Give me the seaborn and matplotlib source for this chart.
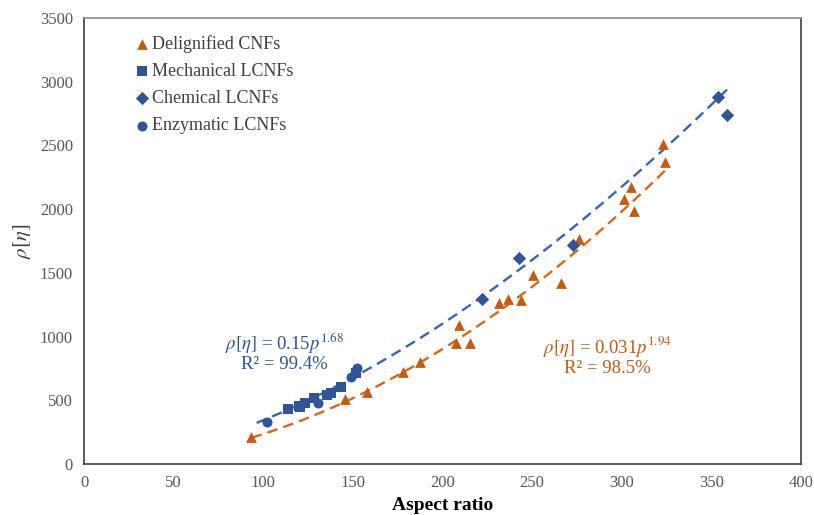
import numpy as np
import pandas as pd
import matplotlib
matplotlib.use("Agg")
import matplotlib.pyplot as plt
import seaborn as sns

# ---- data ----
delig_x = [93.4, 145.4, 157.9, 178.0, 187.3, 207.8, 209.2, 215.6, 231.5, 236.8,
           243.8, 250.5, 266.1, 276.3, 301.3, 305.4, 306.7, 323.0, 324.1]
delig_y = [209, 510, 567, 724, 800, 947, 1093, 952, 1261, 1292,
           1287, 1483, 1418, 1763, 2082, 2176, 1988, 2511, 2368]

mech_x = [113.8, 119.8, 120.6, 123.1, 128.3, 135.8, 137.6, 143.6, 151.5]
mech_y = [432, 458, 446, 476, 520, 541, 555, 607, 712]

chem_x = [222.2, 242.5, 272.8, 353.7, 358.7]
chem_y = [1292, 1614, 1718, 2882, 2739]

enz_x = [102.3, 130.5, 148.8, 152.5]
enz_y = [327, 476, 685, 751]

groups = ["Delignified CNFs", "Mechanical LCNFs", "Chemical LCNFs", "Enzymatic LCNFs"]

# fitted power laws shown on chart
blue_a, blue_b = 0.15, 1.68
orange_a, orange_b = 0.031, 1.94
blue_range = (96.3, 358.7)
orange_range = (93.4, 324.1)

x_ticks = [0, 50, 100, 150, 200, 250, 300, 350, 400]
y_ticks = [0, 500, 1000, 1500, 2000, 2500, 3000, 3500]

# ---- build frame ----
df = pd.concat([
    pd.DataFrame({"x": delig_x, "y": delig_y, "g": groups[0]}),
    pd.DataFrame({"x": mech_x, "y": mech_y, "g": groups[1]}),
    pd.DataFrame({"x": chem_x, "y": chem_y, "g": groups[2]}),
    pd.DataFrame({"x": enz_x, "y": enz_y, "g": groups[3]}),
], ignore_index=True)

orange = "#C55A11"
blue = "#2F5597"
palette = {groups[0]: orange, groups[1]: blue, groups[2]: blue, groups[3]: blue}
markers = {groups[0]: "^", groups[1]: "s", groups[2]: "D", groups[3]: "o"}

sns.set_theme(style="white")
plt.rcParams["font.family"] = ["Liberation Serif", "DejaVu Serif"]
plt.rcParams["mathtext.fontset"] = "stix"

fig = plt.figure(figsize=(8.14, 5.15), dpi=100)
ax = fig.add_axes([0.1032, 0.099, 0.8808, 0.866])

# trend lines
xb = np.linspace(*blue_range, 200)
xo = np.linspace(*orange_range, 200)
sns.lineplot(x=xb, y=blue_a * xb ** blue_b, ax=ax, color="#3A65AD", lw=1.7,
             linestyle=(0, (4.5, 2.6)), zorder=2)
sns.lineplot(x=xo, y=orange_a * xo ** orange_b, ax=ax, color="#D2691E", lw=1.7,
             linestyle=(0, (4.5, 2.6)), zorder=2)

sizes = {groups[0]: 60, groups[1]: 55, groups[2]: 46, groups[3]: 52}
for g in groups:
    sub = df[df.g == g]
    sns.scatterplot(data=sub, x="x", y="y", ax=ax, color=palette[g],
                    marker=markers[g], s=sizes[g], linewidth=0, label=g, zorder=3)

ax.set_xlim(0, 400)
ax.set_ylim(0, 3500)
ax.set_xticks(x_ticks)
ax.set_yticks(y_ticks)
ax.tick_params(axis="both", length=0, labelsize=12, colors="#595959", pad=8)
ax.set_xlabel("Aspect ratio", fontsize=14, fontweight="bold", color="black", labelpad=4)
ax.set_ylabel(r"$\rho[\eta]$", fontsize=15, color="#404040", labelpad=5)

for side in ["left", "bottom", "right"]:
    ax.spines[side].set_color("#404040")
    ax.spines[side].set_linewidth(1.2)
ax.spines["top"].set_color("#8c8c8c")
ax.spines["top"].set_linewidth(1.2)

leg = ax.legend(loc="upper left", bbox_to_anchor=(0.058, 0.978), frameon=False,
                fontsize=13, handletextpad=0.05, labelspacing=0.56, handlelength=1.0,
                borderaxespad=0)
for t in leg.get_texts():
    t.set_color("#404040")

ax.text(0.28, 0.252, r"$\rho[\eta]$ = 0.15$p^{1.68}$" + "\nR² = 99.4%", transform=ax.transAxes,
        ha="center", va="center", fontsize=13.5, color=blue, linespacing=1.05)
ax.text(0.73, 0.243, r"$\rho[\eta]$ = 0.031$p^{1.94}$" + "\nR² = 98.5%", transform=ax.transAxes,
        ha="center", va="center", fontsize=13.5, color=orange, linespacing=1.05)

fig.savefig("out.png", dpi=100)
